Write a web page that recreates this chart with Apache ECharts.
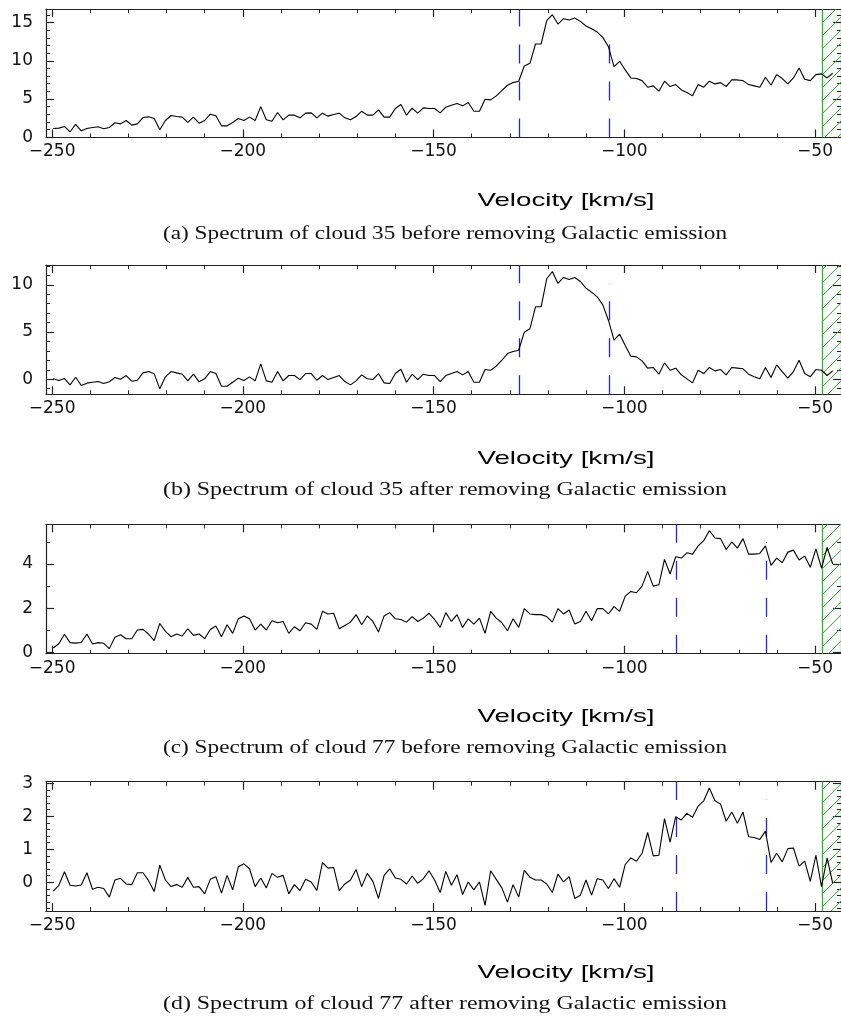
<!DOCTYPE html>
<html><head><meta charset="utf-8">
<script src="https://cdn.jsdelivr.net/npm/echarts@6/dist/echarts.min.js"></script>
<style>html,body{margin:0;padding:0;background:#fff}#c{width:841px;height:1020px}</style>
</head><body><div id="c"></div>
<script>
// ---------------- data ----------------
const velStart = -249.7;   // first channel velocity [km/s]
const velStep = 1.47;      // channel width [km/s]

const cloud35Before = [1.13,1.18,1.4,0.7,1.66,0.83,1.13,1.26,1.35,1.09,
1.26,1.88,1.74,2.18,1.57,1.74,2.57,2.66,2.44,0.96,
2.18,2.83,2.7,2.62,1.92,2.62,1.83,2.18,3.0,2.79,
1.48,1.48,1.92,2.44,2.18,2.62,2.18,4.0,2.27,2.09,
3.23,2.27,2.88,2.88,2.53,3.14,3.18,2.53,3.14,2.75,
2.97,3.14,2.53,2.27,2.7,3.4,2.88,2.88,3.58,2.62,
2.62,3.75,4.27,2.88,3.79,3.14,
3.84,3.75,3.75,3.18,3.92,4.19,4.4,4.1,4.54,3.4,
3.4,4.97,4.88,5.41,6.1,6.8,7.15,7.33,9.33,9.68,
12.21,12.21,15.26,16.05,14.83,15.53,15.35,15.61,15.18,14.57,
14.22,13.78,13.08,11.86,9.25,9.94,8.81,7.76,7.68,7.41,
6.54,6.72,6.02,7.33,6.63,6.89,6.19,5.84,5.41,6.89,
6.54,7.33,6.98,7.15,6.63,7.5,7.5,7.41,6.89,6.72,
6.54,7.85,6.8,8.2,7.68,6.98,7.76,9.07,7.59,7.41,
8.2,8.29,7.76,8.37];

const cloud35After = [0.04,-0.14,0.07,-0.6,0.21,-0.67,-0.42,-0.32,-0.25,-0.46,
-0.28,0.18,0,0.39,-0.21,-0.11,0.67,0.81,0.57,-1.02,
0.25,0.81,0.67,0.53,-0.18,0.53,-0.28,0.04,0.81,0.6,
-0.74,-0.74,-0.32,0.11,-0.14,0.25,-0.18,1.63,-0.18,-0.32,
0.81,-0.18,0.39,0.39,-0.04,0.6,0.6,-0.11,0.39,-0.04,
0.18,0.39,-0.25,-0.6,-0.18,0.46,0.04,-0.04,0.6,-0.39,
-0.46,0.6,1.06,-0.32,0.53,-0.04,
0.53,0.39,0.39,-0.25,0.39,0.6,0.81,0.46,0.81,-0.32,
-0.32,1.02,0.95,1.38,2.01,2.72,2.93,3.07,4.98,5.34,
7.67,7.67,10.64,11.41,10.14,10.78,10.57,10.78,10.35,9.65,
9.22,8.73,7.88,6.25,4.13,4.77,3.57,2.44,2.37,1.94,
1.17,1.24,0.53,1.73,0.95,1.17,0.46,0.04,-0.39,0.95,
0.6,1.24,0.88,1.02,0.46,1.24,1.17,1.1,0.53,0.25,
0.04,1.24,0.18,1.52,0.81,0.11,0.81,2.01,0.6,0.25,
1.02,0.95,0.39,0.88];

const cloud77Before = [0.2,0.39,0.82,0.44,0.42,0.45,0.83,0.38,0.44,0.41,
0.17,0.68,0.8,0.62,0.62,1.01,1.04,0.83,0.53,1.31,
0.95,0.71,0.83,0.74,1.07,0.77,0.83,0.62,1.04,1.19,
0.71,1.25,0.86,1.52,1.65,1.52,1.01,1.28,1.01,1.43,
1.34,1.4,0.86,1.16,0.98,1.34,1.28,1.04,1.86,1.74,
1.77,1.07,1.22,1.37,1.71,1.25,1.65,1.4,0.92,1.65,
1.8,1.52,1.49,1.37,1.62,1.4,
1.55,1.77,1.49,1.13,1.8,1.4,1.71,1.13,1.52,1.28,
1.55,0.86,1.86,1.55,1.34,0.98,1.52,1.13,1.98,1.74,
1.71,1.71,1.62,1.37,1.98,1.74,1.92,1.28,1.4,1.86,
1.43,1.98,1.98,1.74,2.07,1.86,2.55,2.76,2.7,3.0,
3.67,3.0,3.06,4.21,3.55,4.33,4.27,4.51,4.45,4.82,
5.06,5.51,5.18,5.15,4.66,5.0,4.72,5.15,4.45,4.45,
4.48,4.82,3.94,4.27,4.06,4.54,4.63,4.18,4.36,3.85,
4.69,3.82,4.75,4.0];

const cloud77After = [-0.27,-0.09,0.32,-0.09,-0.11,-0.08,0.29,-0.21,-0.15,-0.19,
-0.45,0.07,0.12,-0.05,-0.07,0.29,0.29,0.05,-0.28,0.52,
0.07,-0.13,-0.07,-0.15,0.15,-0.15,-0.13,-0.35,0.09,0.17,
-0.33,0.21,-0.23,0.47,0.56,0.41,-0.13,0.13,-0.17,0.27,
0.15,0.21,-0.35,-0.07,-0.25,0.09,0.01,-0.25,0.6,0.43,
0.45,-0.25,-0.05,0.07,0.39,-0.13,0.27,0.03,-0.49,0.21,
0.41,0.13,0.09,-0.05,0.19,-0.03,
0.11,0.35,0.07,-0.31,0.33,-0.09,0.23,-0.37,0.01,-0.23,
0.01,-0.7,0.35,0.09,-0.17,-0.6,-0.07,-0.45,0.37,0.15,
0.07,0.07,-0.05,-0.31,0.25,0.01,0.17,-0.49,-0.39,0.07,
-0.39,0.11,0.07,-0.19,0.11,-0.15,0.54,0.74,0.64,0.88,
1.51,0.8,0.82,1.93,1.22,1.99,1.89,2.09,1.97,2.31,
2.47,2.86,2.47,2.37,1.85,2.13,1.79,2.13,1.38,1.36,
1.3,1.55,0.6,0.88,0.62,1.02,1.04,0.49,0.64,0.03,
0.82,-0.13,0.74,-0.03];

const xMajorTicks = [-250,-200,-150,-100,-50];
const xMinorTicks = [-240,-230,-220,-210,-190,-180,-170,-160,-140,-130,-120,-110,-90,-80,-70,-60];
const galacticLimit = -48.1;           // start of hatched (Galactic) region
const cloud35Window = [-127.5, -104.0]; // blue dashed velocity limits
const cloud77Window = [-86.3, -62.8];

const captions = [
  '(a) Spectrum of cloud 35 before removing Galactic emission',
  '(b) Spectrum of cloud 35 after removing Galactic emission',
  '(c) Spectrum of cloud 77 before removing Galactic emission',
  '(d) Spectrum of cloud 77 after removing Galactic emission'
];
const xAxisTitle = 'Velocity [km/s]';

// y-axis setup per panel
const yRanges = [[-0.05,16.8],[-1.6,12.1],[-0.06,5.8],[-0.87,3.05]];
const yMajor = [[0,5,10,15],[0,5,10],[0,2,4],[0,1,2,3]];
const yMinor = [
  [1,2,3,4,6,7,8,9,11,12,13,14,16],
  [-1,1,2,3,4,6,7,8,9,11,12],
  [1,3,5],
  [-0.8,-0.6,-0.4,-0.2,0.2,0.4,0.6,0.8,1.2,1.4,1.6,1.8,2.2,2.4,2.6,2.8]
];
const windowTops = [[16.8,14.5],[12.1,10.2],[5.8,5.0],[3.05,2.5]];

// ---------------- layout ----------------
const X_MIN = -251.6, X_MAX = -43.2;
const grids = [
  {left:46, right:-3, top:9,     height:128.5},
  {left:46, right:-3, top:265,   height:129.3},
  {left:46, right:-3, top:524.3, height:129.4},
  {left:46, right:-3, top:781.7, height:129.3}
];
const axisTitleY = [201, 459, 717, 973];
const captionY = [234, 490, 748, 1004];

const spectra = [cloud35Before, cloud35After, cloud77Before, cloud77After];
const windows = [cloud35Window, cloud35Window, cloud77Window, cloud77Window];

// hatch pattern
const hatch = document.createElement('canvas');
const HS = 13;
hatch.width = HS; hatch.height = HS;
(function(){
  const c = hatch.getContext('2d');
  c.strokeStyle = '#2ab82a'; c.lineWidth = 1;
  c.beginPath();
  c.moveTo(0, HS); c.lineTo(HS, 0);
  c.moveTo(-2, 2); c.lineTo(2, -2);
  c.moveTo(HS-2, HS+2); c.lineTo(HS+2, HS-2);
  c.stroke();
})();

const axisColor = '#222';
const sans = 'DejaVu Sans';
const minus = v => String(v).replace('-', '\u2212');

const xAxes = [], yAxes = [], series = [];
grids.forEach((g, i) => {
  const base = {gridIndex:i, type:'value', min:X_MIN, max:X_MAX, splitLine:{show:false}};
  xAxes.push(Object.assign({}, base, {
    position:'bottom',
    axisLine:{show:true, onZero:false, lineStyle:{color:axisColor, width:1.2}},
    axisTick:{show:true, inside:true, length:8, customValues:xMajorTicks, lineStyle:{color:axisColor, width:1.2}},
    axisLabel:{show:true, customValues:xMajorTicks, formatter:minus, margin:6, fontSize:17, fontFamily:sans, color:'#111'}
  }));
  xAxes.push(Object.assign({}, base, {
    position:'bottom',
    axisLine:{show:false, onZero:false},
    axisTick:{show:true, inside:true, length:4, customValues:xMinorTicks, lineStyle:{color:axisColor, width:1}},
    axisLabel:{show:false}
  }));
  xAxes.push(Object.assign({}, base, {
    position:'top',
    axisLine:{show:true, onZero:false, lineStyle:{color:axisColor, width:1.2}},
    axisTick:{show:true, inside:true, length:8, customValues:xMajorTicks, lineStyle:{color:axisColor, width:1.2}},
    axisLabel:{show:false}
  }));
  xAxes.push(Object.assign({}, base, {
    position:'top',
    axisLine:{show:false, onZero:false},
    axisTick:{show:true, inside:true, length:4, customValues:xMinorTicks, lineStyle:{color:axisColor, width:1}},
    axisLabel:{show:false}
  }));

  const yb = {gridIndex:i, type:'value', min:yRanges[i][0], max:yRanges[i][1], splitLine:{show:false}};
  yAxes.push(Object.assign({}, yb, {
    position:'left',
    axisLine:{show:true, onZero:false, lineStyle:{color:axisColor, width:1.2}},
    axisTick:{show:true, inside:true, length:8, customValues:yMajor[i], lineStyle:{color:axisColor, width:1.2}},
    axisLabel:{show:true, customValues:yMajor[i], formatter:minus, margin:13, fontSize:17, fontFamily:sans, color:'#111'}
  }));
  yAxes.push(Object.assign({}, yb, {
    position:'left',
    axisLine:{show:false, onZero:false},
    axisTick:{show:true, inside:true, length:4, customValues:yMinor[i], lineStyle:{color:axisColor, width:1}},
    axisLabel:{show:false}
  }));
  yAxes.push(Object.assign({}, yb, {
    position:'right',
    axisLine:{show:true, onZero:false, lineStyle:{color:axisColor, width:1.2}},
    axisTick:{show:true, inside:true, length:8, customValues:yMajor[i], lineStyle:{color:axisColor, width:1.2}},
    axisLabel:{show:false}
  }));
  yAxes.push(Object.assign({}, yb, {
    position:'right',
    axisLine:{show:false, onZero:false},
    axisTick:{show:true, inside:true, length:4, customValues:yMinor[i], lineStyle:{color:axisColor, width:1}},
    axisLabel:{show:false}
  }));

  const vals = spectra[i];
  const data = vals.map((y, k) => [velStart + k * velStep, y]);
  const w = windows[i];
  const yMin = yRanges[i][0], yMax = yRanges[i][1];
  series.push({
    type:'line', xAxisIndex:4*i, yAxisIndex:4*i, data,
    showSymbol:false, symbol:'none', smooth:false, clip:true,
    lineStyle:{color:'#000', width:1.1}, animation:false, silent:true, z:5,
    markLine:{
      silent:true, symbol:['none','none'], label:{show:false}, animation:false,
      data:[
        [{coord:[w[0], yMin], lineStyle:{color:'#2626d6', width:1.3, type:[19,18]}}, {coord:[w[0], windowTops[i][0]]}],
        [{coord:[w[1], yMin], lineStyle:{color:'#2626d6', width:1.3, type:[19,18]}}, {coord:[w[1], windowTops[i][1]]}],
        [{coord:[galacticLimit, yMin], lineStyle:{color:'#2ab82a', width:1.3, type:'solid'}}, {coord:[galacticLimit, yMax]}]
      ]
    },
    markArea:{
      silent:true, animation:false,
      itemStyle:{color:{image:hatch, repeat:'repeat'}, borderWidth:0},
      data:[[{xAxis:galacticLimit, yAxis:yMin}, {xAxis:X_MAX, yAxis:yMax}]]
    }
  });
});

// text (axis title + captions)
const mc = document.createElement('canvas').getContext('2d');
function fitScale(text, font, target){ mc.font = font; return target / mc.measureText(text).width; }
const titleFont = '19px "Liberation Sans"';
const capFont = '19px "Liberation Serif"';
const titleScale = fitScale(xAxisTitle, titleFont, 177);
const graphics = [];
captions.forEach((cap, i) => {
  graphics.push({type:'text', x:566, y:axisTitleY[i], scaleX:titleScale, silent:true,
    style:{text:xAxisTitle, font:titleFont, fill:'#000', align:'center', verticalAlign:'middle'}});
  graphics.push({type:'text', x:445, y:captionY[i], scaleX:fitScale(cap, capFont, 564), silent:true,
    style:{text:cap, font:capFont, fill:'#111', align:'center', verticalAlign:'middle'}});
});

const chart = echarts.init(document.getElementById('c'), null, {renderer:'canvas'});
chart.setOption({
  animation:false,
  backgroundColor:'#fff',
  grid:grids,
  xAxis:xAxes,
  yAxis:yAxes,
  series,
  graphic:graphics
});
</script></body></html>
